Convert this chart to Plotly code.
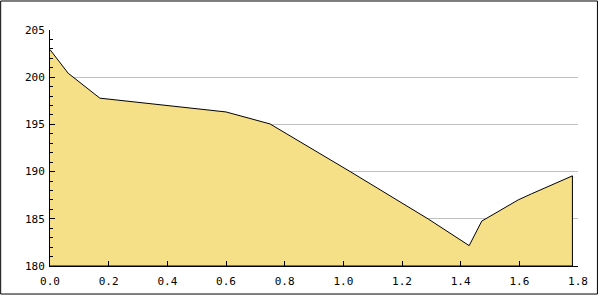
import plotly.graph_objects as go

x_vals = [0.0, 0.062, 0.17, 0.60, 0.75, 1.025, 1.29, 1.429, 1.472, 1.596, 1.641, 1.781]
y_vals = [202.92, 200.42, 197.78, 196.32, 195.05, 189.97, 184.97, 182.16, 184.76, 187.0, 187.64, 189.55]
y_base = 180

W, H = 600, 300
ML, MR, MT, MB = 50, 20, 30, 30
PW, PH = W - ML - MR, H - MT - MB

# closed outline: series, then down to base and back to the start
xs = x_vals + [x_vals[-1], x_vals[0]]
ys = y_vals + [y_base, y_base]

fig = go.Figure()
fig.add_trace(go.Scatter(
    x=xs, y=ys, mode="lines", fill="toself",
    fillcolor="#f5e087", line=dict(color="black", width=1),
    hoverinfo="skip", showlegend=False,
))

font = dict(family="DejaVu Sans Mono", size=11, color="black")

fig.update_layout(
    width=W, height=H,
    margin=dict(l=ML, r=MR, t=MT, b=MB),
    paper_bgcolor="white", plot_bgcolor="white",
    showlegend=False,
    xaxis=dict(
        range=[0, 1.8], tick0=0, dtick=0.2, tickformat=".1f",
        ticks="inside", ticklen=5, tickcolor="black", tickwidth=1,
        showline=True, linecolor="black", linewidth=1,
        showgrid=False, zeroline=False, tickfont=font,
        ticklabelstandoff=5,
    ),
    yaxis=dict(
        range=[180, 205], tick0=180, dtick=5,
        ticks="inside", ticklen=5, tickcolor="black", tickwidth=1,
        showline=True, linecolor="black", linewidth=1,
        showgrid=True, gridcolor="#c0c0c0", gridwidth=1,
        zeroline=False, tickfont=font,
        minor=dict(dtick=1, ticks="inside", ticklen=3, tickcolor="black", showgrid=False),
        ticklabelstandoff=2,
    ),
    shapes=[dict(
        type="rect", xref="paper", yref="paper",
        x0=(0.5 - ML) / PW, x1=(599.5 - ML) / PW,
        y0=(H - 298.5 - MB) / PH, y1=(H - 0.5 - MB) / PH,
        line=dict(color="black", width=1), fillcolor="rgba(0,0,0,0)",
        layer="above",
    )],
)

fig.write_html("out.html")
